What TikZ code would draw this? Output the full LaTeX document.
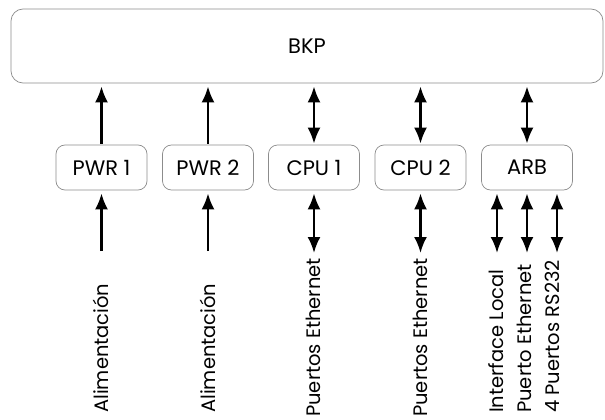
\documentclass[tikz,border=0pt]{standalone}
\usepackage{fontspec}
\setmainfont{Poppins}
\usetikzlibrary{arrows.meta,positioning}
\tikzset{>={Latex[length=16pt,width=13pt]}}
\colorlet{boxcol}{black!45}
\tikzset{
  unit/.style={draw=boxcol, line width=0.7pt, rounded corners=9pt,
    minimum width=91pt, minimum height=45pt, font=\fontsize{21}{24}\selectfont},
  port/.style={rotate=90, anchor=base west, inner sep=0pt, font=\fontsize{19.5}{22}\selectfont},
  link/.style={line width=2.4pt, shorten <=1pt, shorten >=3pt}
}

\begin{document}
\begin{tikzpicture}[x=1pt,y=-1pt]
    \useasboundingbox (0,0) rectangle (605,420);

    \node[draw=boxcol, line width=0.7pt, rounded corners=12pt, minimum width=592pt,
      minimum height=74pt, font=\fontsize{21}{24}\selectfont] (bkp) at (307,46) {BKP};

    \node[unit] (pwra) at (101.5,167.5) {PWR 1};
    \node[unit] (pwrb) at (208,167.5) {PWR 2};
    \node[unit] (cpua) at (314,167.5) {CPU 1};
    \node[unit] (cpub) at (420.5,167.5) {CPU 2};
    \node[unit] (arb) at (527,167.5) {ARB};

    % up to the backplane
    \foreach \n in {pwra,pwrb}
    {
        \draw[link,->] (\n.north) -- (\n.north |- bkp.south);
    }
    \foreach \n in {cpua,cpub,arb}
    {
        \draw[link,<->] (\n.north) -- (\n.north |- bkp.south);
    }

    % outside ports
    \node[port] (alima) at (108,413) {Alimentación};
    \node[port] (alimb) at (215,413) {Alimentación};
    \node[port] (etha) at (320,417) {Puertos Ethernet};
    \node[port] (ethb) at (427,417) {Puertos Ethernet};
    \node[port] (local) at (503,413) {Interface Local};
    \node[port] (eth) at (531,413) {Puerto Ethernet};
    \node[port] (serial) at (559,413) {4 Puertos RS232};

    \coordinate (pa) at (101.5,252);
    \coordinate (pb) at (208,252);
    \coordinate (ca) at (314,254);
    \coordinate (cb) at (420.5,254);
    \coordinate (aa) at (497,254);
    \coordinate (ab) at (527,254);
    \coordinate (ac) at (557,254);

    \draw[link,->] (pa) -- (pa |- pwra.south);
    \draw[link,->] (pb) -- (pb |- pwrb.south);
    \draw[link,<->] (ca) -- (ca |- cpua.south);
    \draw[link,<->] (cb) -- (cb |- cpub.south);
    \foreach \c in {aa,ab,ac}
    {
        \draw[link,<->] (\c) -- (\c |- arb.south);
    }
\end{tikzpicture}
\end{document}
